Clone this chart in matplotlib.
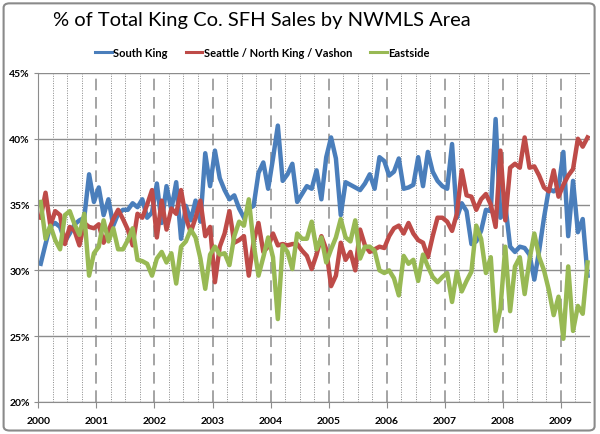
import numpy as np
import matplotlib
matplotlib.use('Agg')
import matplotlib.pyplot as plt
from matplotlib.patches import FancyBboxPatch

# monthly share of King Co. SFH sales, Jan 2000 - Jun 2009 (%)
south_king = [30.5, 32.0, 33.4, 33.6, 33.3, 32.2, 32.8, 33.5, 33.8, 34.0, 37.3, 35.2,
              36.3, 34.2, 35.4, 33.4, 34.3, 34.6, 34.6, 35.1, 34.8, 35.4, 34.0, 34.4,
              36.6, 33.6, 36.4, 34.6, 36.7, 32.4, 34.9, 33.8, 35.3, 33.7, 38.9, 36.4,
              39.1, 37.0, 36.1, 35.4, 35.7, 34.7, 34.0, 34.7, 34.9, 37.4, 38.2, 36.2,
              38.5, 41.0, 36.8, 37.3, 38.1, 35.2, 35.8, 36.4, 36.2, 37.6, 35.4, 38.6,
              40.1, 38.5, 34.2, 36.7, 36.5, 36.3, 36.1, 36.6, 37.3, 36.2, 38.6, 38.3,
              37.2, 37.5, 38.5, 36.2, 36.3, 36.5, 38.6, 36.4, 39.0, 37.5, 36.8, 36.4,
              36.2, 39.6, 34.0, 35.1, 34.5, 32.0, 32.2, 33.0, 34.6, 34.5, 41.5, 34.0,
              35.0, 31.8, 31.4, 31.8, 31.7, 31.2, 29.3, 31.5, 34.0, 36.2, 36.0, 36.3,
              39.0, 32.6, 36.8, 32.9, 33.9, 29.6]
seattle = [34.0, 35.9, 33.4, 34.5, 34.2, 32.0, 33.3, 33.0, 31.9, 33.6, 33.3, 33.2,
           33.5, 32.1, 33.0, 33.9, 34.6, 33.9, 33.1, 31.9, 34.3, 34.0, 35.0, 36.1,
           32.5, 35.3, 33.1, 34.7, 34.3, 36.1, 34.0, 32.9, 34.0, 35.3, 32.6, 33.3,
           29.1, 31.8, 32.8, 34.5, 32.1, 32.3, 32.6, 29.6, 32.2, 33.6, 31.4, 31.8,
           32.8, 31.9, 32.0, 31.9, 32.0, 32.0, 31.5, 31.1, 30.1, 31.2, 32.6, 31.6,
           28.8, 29.6, 32.1, 30.8, 31.4, 30.0, 33.1, 31.9, 31.4, 31.6, 31.8, 31.7,
           32.6, 33.2, 33.4, 32.8, 33.6, 32.8, 32.3, 32.1, 31.0, 32.6, 34.0, 34.0,
           33.7, 33.0, 34.3, 37.6, 35.7, 35.6, 34.6, 35.4, 35.8, 35.0, 33.3, 39.1,
           33.8, 37.8, 38.1, 37.8, 40.1, 37.8, 37.9, 37.2, 36.3, 36.0, 37.6, 35.6,
           36.5, 37.2, 37.7, 40.0, 39.4, 40.1]
eastside = [35.2, 32.4, 33.4, 32.3, 31.6, 34.2, 34.5, 33.5, 32.7, 34.3, 29.6, 31.3,
            31.8, 33.8, 32.2, 33.2, 31.6, 31.6, 32.3, 33.2, 30.8, 30.7, 30.5, 29.6,
            30.9, 31.4, 30.6, 31.3, 29.0, 31.8, 32.2, 33.1, 32.5, 30.9, 28.6, 31.2,
            31.8, 31.2, 31.3, 30.4, 32.6, 33.7, 33.4, 35.4, 32.0, 29.6, 31.0, 32.5,
            31.0, 26.3, 31.9, 31.4, 30.1, 32.8, 32.4, 32.4, 33.7, 31.6, 32.5, 30.6,
            31.6, 32.5, 33.9, 32.5, 32.2, 33.8, 30.9, 31.8, 31.8, 31.5, 30.0, 29.8,
            30.0, 29.4, 28.1, 31.1, 30.5, 30.8, 29.2, 31.2, 30.3, 29.5, 29.1, 29.5,
            29.8, 27.6, 29.9, 28.4, 29.2, 29.9, 33.4, 32.4, 29.8, 31.0, 25.4, 27.1,
            31.8, 26.9, 30.3, 31.0, 28.2, 30.8, 32.8, 31.0, 30.0, 28.5, 26.6, 28.0,
            24.8, 30.3, 25.4, 27.3, 26.7, 30.6]
series_names = ['South King', 'Seattle / North King / Vashon', 'Eastside']
year_labels = list(range(2000, 2010))

colors = ['#4a7ebb', '#be4b48', '#98b954']

months = np.arange(len(south_king))
xpos = 2000 + (months + 0.5) / 12.0

plt.rcParams['font.family'] = ['Lato', 'DejaVu Sans']

fig = plt.figure(figsize=(6, 4.35), dpi=100)
ax = fig.add_axes([0.0638, 0.0736, 0.9195, 0.7564])

for vals, name, c in zip([south_king, seattle, eastside], series_names, colors):
    ax.plot(xpos, vals, color=c, lw=3.2, label=name, solid_joinstyle='round')

ax.set_xlim(2000, 2009.5)
ax.set_ylim(20, 45)
ax.set_yticks(np.arange(20, 46, 5))
ax.set_yticklabels(['%d%%' % v for v in range(20, 46, 5)], fontsize=7.5, fontweight='bold')
ax.set_xticks(year_labels)
ax.set_xticklabels([str(y) for y in year_labels], fontsize=7.5, fontweight='bold')
ax.set_xticks(np.arange(2000, 2009.6, 0.25), minor=True)

ax.yaxis.grid(True, color='#8c8c8c', lw=1.0)
ax.xaxis.grid(True, which='major', color='#959595', lw=1.2, linestyle=(0, (7, 4)))
ax.xaxis.grid(True, which='minor', color='#888888', lw=0.7, linestyle=(0, (1, 1.5)))
ax.set_axisbelow(True)
ax.tick_params(axis='x', which='major', length=4, color='#8c8c8c', pad=6)
ax.tick_params(axis='x', which='minor', length=0)
ax.tick_params(axis='y', length=3, color='#8c8c8c', pad=3)
for side in ['top', 'right']:
    ax.spines[side].set_visible(False)
for side in ['left', 'bottom']:
    ax.spines[side].set_color('#8c8c8c')

fig.text(0.437, 0.953, '% of Total King Co. SFH Sales by NWMLS Area', ha='center', va='center',
         fontsize=14.5)
fig.legend(loc='center', bbox_to_anchor=(0.4375, 0.878), ncol=3, frameon=False,
           prop={'size': 8, 'weight': 'bold'}, handlelength=1.5, handletextpad=0.15,
           columnspacing=1.6)
for ln in fig.legends[0].get_lines():
    ln.set_linewidth(2.2)

fig.patches.append(FancyBboxPatch((0.006, 0.008), 0.985, 0.982, transform=fig.transFigure,
                                  boxstyle='round,pad=0,rounding_size=0.01',
                                  fc='none', ec='#8a8a8a', lw=1.5))

fig.savefig('out.png', dpi=100)
